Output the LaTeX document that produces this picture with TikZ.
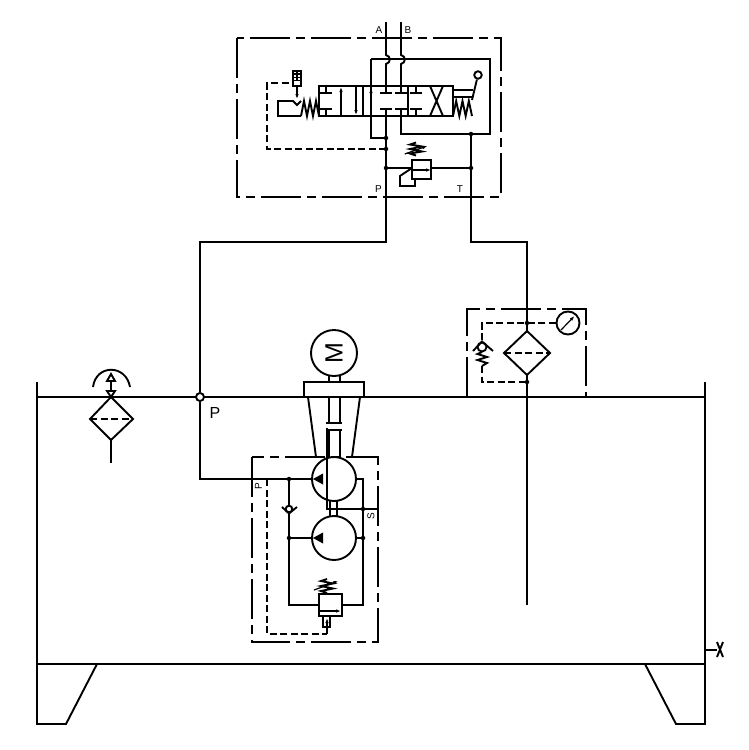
\documentclass[tikz,border=0pt]{standalone}
\usepackage{fontspec}
\setmainfont{Liberation Sans}
\usetikzlibrary{arrows.meta}
\tikzset{
  every path/.style={line width=1.9pt,line join=miter},
  longdash/.style={dash pattern=on 40pt off 6pt on 9pt off 6pt},
  pilotdash/.style={dash pattern=on 7pt off 3.5pt},
  junction/.style={circle,fill=black,inner sep=0pt,minimum size=4.5pt},
  portlabel/.style={inner sep=0pt,font=\fontsize{10}{10}\selectfont},
  tee/.style={-{Latex[length=5pt,width=3.5pt]},line width=1.2pt},
  pumpbody/.style={circle,draw,inner sep=0pt,minimum size=44pt},
  zigzag/.pic={
    \draw (0,0) \foreach \k in {1,3,5} { -- (\k/6,-1) -- (\k/6+1/6,0) };
  },
  blocked/.pic={
    \draw (-6,0) -- (6,0) (0,0) -- (0,-7);
  }
}
\begin{document}
\begin{tikzpicture}[x=1pt,y=-1pt]
\useasboundingbox (0,0) rectangle (749,750);
% tank
\draw (37,382) -- (37,724) -- (66,724) -- (97,664);
\draw (705,382) -- (705,724) -- (676,724) -- (645,664);
\draw (37,397) -- (705,397);
\draw (37,664) -- (705,664);
\draw (705,650) -- (717,650);
\draw (717,642) -- (723,657) (723,642) -- (717,657);
% breather
\coordinate (breatherTop) at (111,397);
\coordinate (breatherBot) at (111,440);
\draw (breatherTop) -- (133,419) -- (breatherBot) -- (90,419) -- cycle;
\draw[pilotdash] (90,419) -- (133,419);
\draw (breatherBot) -- (111,463);
\draw (93,387) .. controls (96,364) and (126,364) .. (130,387);
\draw (111,381) -- (111,391);
\draw (107,381) -- (111,374) -- (115,381) -- cycle;
\draw (107,391) -- (111,397) -- (115,391) -- cycle;
% pressure line
\node[circle,draw,fill=white,inner sep=0pt,minimum size=8pt] (teeP) at (200,397) {};
\node[inner sep=0pt,font=\fontsize{16}{16}\selectfont] (labelP) at (215,413) {P};
\coordinate (bendP) at (200,242);
\coordinate (bendT) at (527,242);
% motor and bell housing
\node[pumpbody,minimum size=46pt,rotate=90,font=\fontsize{25}{25}\selectfont] (motor) at (334,353) {M};
\draw (329,376) -- (329,382) (340,376) -- (340,382);
\draw (304,397) -- (304,382) -- (364,382) -- (364,397);
\draw (308,397) -- (316,457) (360,397) -- (352,457);
\draw (329,397) -- (329,423) (340,397) -- (340,423);
\draw (326,423) -- (342,423) (326,430) -- (342,430);
\draw (329,430) -- (329,457) (340,430) -- (340,457);
% power unit
\draw[longdash] (252,457) rectangle (378,642);
\node[pumpbody] (pumpA) at (334,479) {};
\node[pumpbody] (pumpB) at (334,538) {};
\draw (330,501) -- (330,516) (337,501) -- (337,516);
\fill (313,479) -- (323,473.5) -- (323,484.5) -- cycle;
\fill (313,538) -- (323,532.5) -- (323,543.5) -- cycle;
\draw (teeP) -- (200,479) -- (pumpA.west);
\foreach \nm/\xx/\yy in {
  dotCheck/289/479, dotPumpB/289/538, dotDrain/363/509, dotPumpR/363/538,
  dotFiltTop/527/323, dotFiltBot/527/382,
  dotT/471/134, dotTRelief/471/168, dotPa/386/138, dotPb/386/149, dotPc/386/168
} {
  \node[junction] (\nm) at (\xx,\yy) {};
}
\draw (289,479) -- (289,605) -- (319,605);
\draw (289,538) -- (pumpB.west);
\draw (pumpA.east) -- (363,479) -- (363,605) -- (342,605);
\draw (pumpB.east) -- (363,538);
\draw (327,428) -- (327,509) -- (378,509);
\node[circle,draw,fill=white,inner sep=0pt,minimum size=6.6pt] (checkBall) at (289,509) {};
\draw (282,507) -- (289,513.5) -- (297,507);
\node[inner sep=0pt,rotate=90,font=\fontsize{10}{10}\selectfont] (labelPP) at (258.5,486) {P};
\node[inner sep=0pt,rotate=90,font=\fontsize{10}{10}\selectfont] (labelS) at (371,516) {S};
% relief valve of the unit
\draw[fill=white] (319,594) rectangle (342,616);
\draw[tee] (319,611) -- (341,611);
\draw (323,616) -- (323,627) -- (330,627) -- (330,616);
\draw[tee] (327,634) -- (327,618);
\draw[pilotdash] (267,479) -- (267,634) -- (327,634);
\draw (327,579) -- (321,581) -- (333,583.5) -- (321,586) -- (333,588.5) -- (321,591) -- (327,593);
\draw[tee] (314,590) -- (338.5,581);
% return filter
\draw (471,134) -- (471,242) -- (bendT) -- (527,605);
\draw[longdash] (467,397) -- (467,309) -- (586,309) -- (586,397);
\draw[fill=white] (527,331) -- (550,353) -- (527,375) -- (504,353) -- cycle;
\draw[pilotdash] (504,353) -- (550,353);
\node[circle,draw,inner sep=0pt,minimum size=23pt] (gauge) at (568,323) {};
\draw[tee] (561,330) -- (574.5,316);
\draw[pilotdash] (gauge.west) -- (482,323) -- (482,342);
\draw[pilotdash] (482,366) -- (482,382) -- (527,382);
\node[circle,draw,inner sep=0pt,minimum size=9pt] (filterBall) at (482,347) {};
\draw (473,351) -- (482,341.5) -- (493,351);
\draw (482,352) -- (477.5,354) -- (487,357) -- (477.5,360) -- (487,363) -- (482,366);
% valve block
\draw[longdash] (237,38) rectangle (501,197);
\draw (319,86) rectangle (453,116);
\draw (363,86) -- (363,116) (408,86) -- (408,116);
\foreach \xx in {326,386,401,416} {
  \pic at (\xx,93) {blocked};
  \pic[yscale=-1] at (\xx,109) {blocked};
}
\draw[tee] (341,116) -- (341,87);
\draw[tee] (356,86) -- (356,115);
\draw (430,116) -- (443,86) (430,86) -- (443,116);
% ports and their lines
\coordinate (portA) at (386,22);
\coordinate (portB) at (401,22);
\draw (portA) -- (386,55) .. controls (391,56) and (391,63) .. (386,64) -- (386,93);
\draw (portB) -- (401,55) .. controls (406,56) and (406,63) .. (401,64) -- (401,93);
\draw (371,59) -- (490,59) -- (490,134) -- (401,134) -- (401,109);
\draw (371,59) -- (371,138) -- (386,138);
\draw[tee] (371,100) -- (371,88);
\draw (386,109) -- (386,242) -- (bendP) -- (teeP);
\draw[pilotdash] (386,149) -- (267,149) -- (267,83) -- (293,83);
\node[portlabel] (labelA) at (379,30) {A};
\node[portlabel] (labelB) at (408,30) {B};
\node[portlabel] (labelPort) at (378.5,189.5) {P};
\node[portlabel] (labelT) at (460,189.5) {T};
% left actuator
\draw (301,116) -- (278,116) -- (278,101) -- (293,101) -- (297,105) -- (301,101);
\pic[xscale=18,yscale=15] at (301,116) {zigzag};
\draw (293,71) rectangle (301,86);
\draw[line width=1.2pt] (293,74) -- (301,74) (293,77.5) -- (301,77.5) (293,80.5) -- (301,80.5);
\draw[line width=1.2pt] (297,71) -- (297,80.5);
\draw[tee] (297,86) -- (297,99);
% right lever
\node[circle,draw,inner sep=0pt,minimum size=7.5pt] (roller) at (478,75) {};
\draw (roller) -- (472,100);
\draw (453,90) -- (473,90) (453,97) -- (472,97);
\pic[xscale=19,yscale=15] at (453,116) {zigzag};
% relief valve of the block
\draw (386,168) -- (412,168) (431,168) -- (471,168);
\draw (412,160) rectangle (431,179);
\draw[tee] (412,170) -- (431,170);
\draw (412,168) -- (400,176) -- (400,186) -- (415,186) -- (415,179);
\draw (416,142.5) -- (410,144.5) -- (422,146.5) -- (410,149) -- (422,151.5) -- (410,153.5) -- (416,155.5);
\draw[tee] (404.7,154) -- (427.3,146);
\end{tikzpicture}
\end{document}
